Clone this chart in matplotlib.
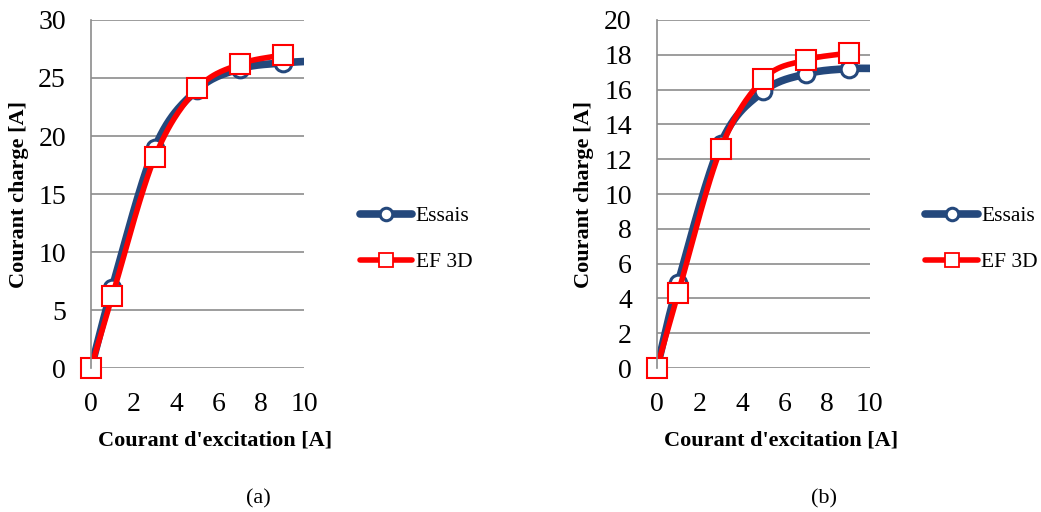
import numpy as np
import matplotlib.pyplot as plt
from matplotlib.lines import Line2D

plt.rcParams['font.family'] = ['Liberation Serif', 'DejaVu Serif']

# data
x_exc = [0, 1, 3, 5, 7, 9, 11]
essais_a = [0, 6.9, 19.0, 24.0, 25.8, 26.3, 26.5]
ef3d_a = [0, 6.2, 18.2, 24.1, 26.2, 27.0]
essais_b = [0, 4.9, 12.9, 15.9, 16.9, 17.2, 17.2]
ef3d_b = [0, 4.3, 12.6, 16.6, 17.7, 18.1]

blue = '#24487C'
red = '#FF0000'


def smooth(x, y, n=30):
    # catmull-rom curve through the points, like Excel smoothed lines
    x = np.asarray(x, float)
    y = np.asarray(y, float)
    px = np.concatenate([[2 * x[0] - x[1]], x, [2 * x[-1] - x[-2]]])
    py = np.concatenate([[2 * y[0] - y[1]], y, [2 * y[-1] - y[-2]]])
    xs, ys = [], []
    t = np.linspace(0, 1, n)
    for i in range(1, len(px) - 2):
        for p, out in ((px, xs), (py, ys)):
            p0, p1, p2, p3 = p[i - 1], p[i], p[i + 1], p[i + 2]
            out.extend(0.5 * (2 * p1 + (-p0 + p2) * t
                              + (2 * p0 - 5 * p1 + 4 * p2 - p3) * t ** 2
                              + (-p0 + 3 * p1 - 3 * p2 + p3) * t ** 3))
    return xs, ys


def panel(ax, ess, ef, ymax, ystep, caption):
    ax.plot(*smooth(x_exc[:len(ess)], ess), color=blue, lw=5.5, solid_capstyle='round')
    ax.plot(x_exc[:6], ess[:6], ls='none', marker='o', ms=12, mfc='white',
            mec=blue, mew=2.2, clip_on=False)
    ax.plot(*smooth(x_exc[:len(ef)], ef), color=red, lw=4, solid_capstyle='round')
    ax.plot(x_exc[:6], ef[:6], ls='none', marker='s', ms=14, mfc='white',
            mec=red, mew=1.5, clip_on=False)
    ax.set_xlim(0, 10)
    ax.set_ylim(0, ymax)
    ax.set_xticks(range(0, 11, 2))
    ax.set_yticks(np.arange(0, ymax + 0.1, ystep))
    ax.grid(axis='y', color='#8c8c8c', lw=1.2)
    ax.set_axisbelow(True)
    for s in ['top', 'right', 'bottom']:
        ax.spines[s].set_visible(False)
    ax.spines['left'].set_color('#8c8c8c')
    ax.spines['left'].set_linewidth(1.2)
    ax.tick_params(length=0, labelsize=20)
    ax.tick_params(axis='y', pad=18)
    ax.tick_params(axis='x', pad=17)
    ax.set_xlabel("Courant d'excitation [A]", fontsize=16, fontweight='bold')
    ax.xaxis.set_label_coords(0.582, -0.178)
    ax.set_ylabel('Courant charge [A]', fontsize=16, fontweight='bold', labelpad=7)
    handles = [
        Line2D([], [], color=blue, lw=5.5, marker='o', ms=9, mfc='white', mec=blue, mew=2.2,
               solid_capstyle='round'),
        Line2D([], [], color=red, lw=4, marker='s', ms=10, mfc='white', mec=red, mew=1.3,
               solid_capstyle='round'),
    ]
    ax.legend(handles, ['Essais', 'EF 3D'], loc='center left', bbox_to_anchor=(1.17, 0.37),
              frameon=False, fontsize=15.5, handlelength=2.45, handletextpad=0.15,
              labelspacing=1.2)
    ax.text(0.784, -0.375, caption, transform=ax.transAxes, ha='center', va='center',
            fontsize=16)


fig = plt.figure(figsize=(10.41, 5.12), dpi=100)
ax1 = fig.add_axes([0.0874, 0.281, 0.2046, 0.680])
ax2 = fig.add_axes([0.631, 0.281, 0.2046, 0.680])
panel(ax1, essais_a, ef3d_a, 30, 5, '(a)')
panel(ax2, essais_b, ef3d_b, 20, 2, '(b)')

fig.savefig('out.png', dpi=100)
